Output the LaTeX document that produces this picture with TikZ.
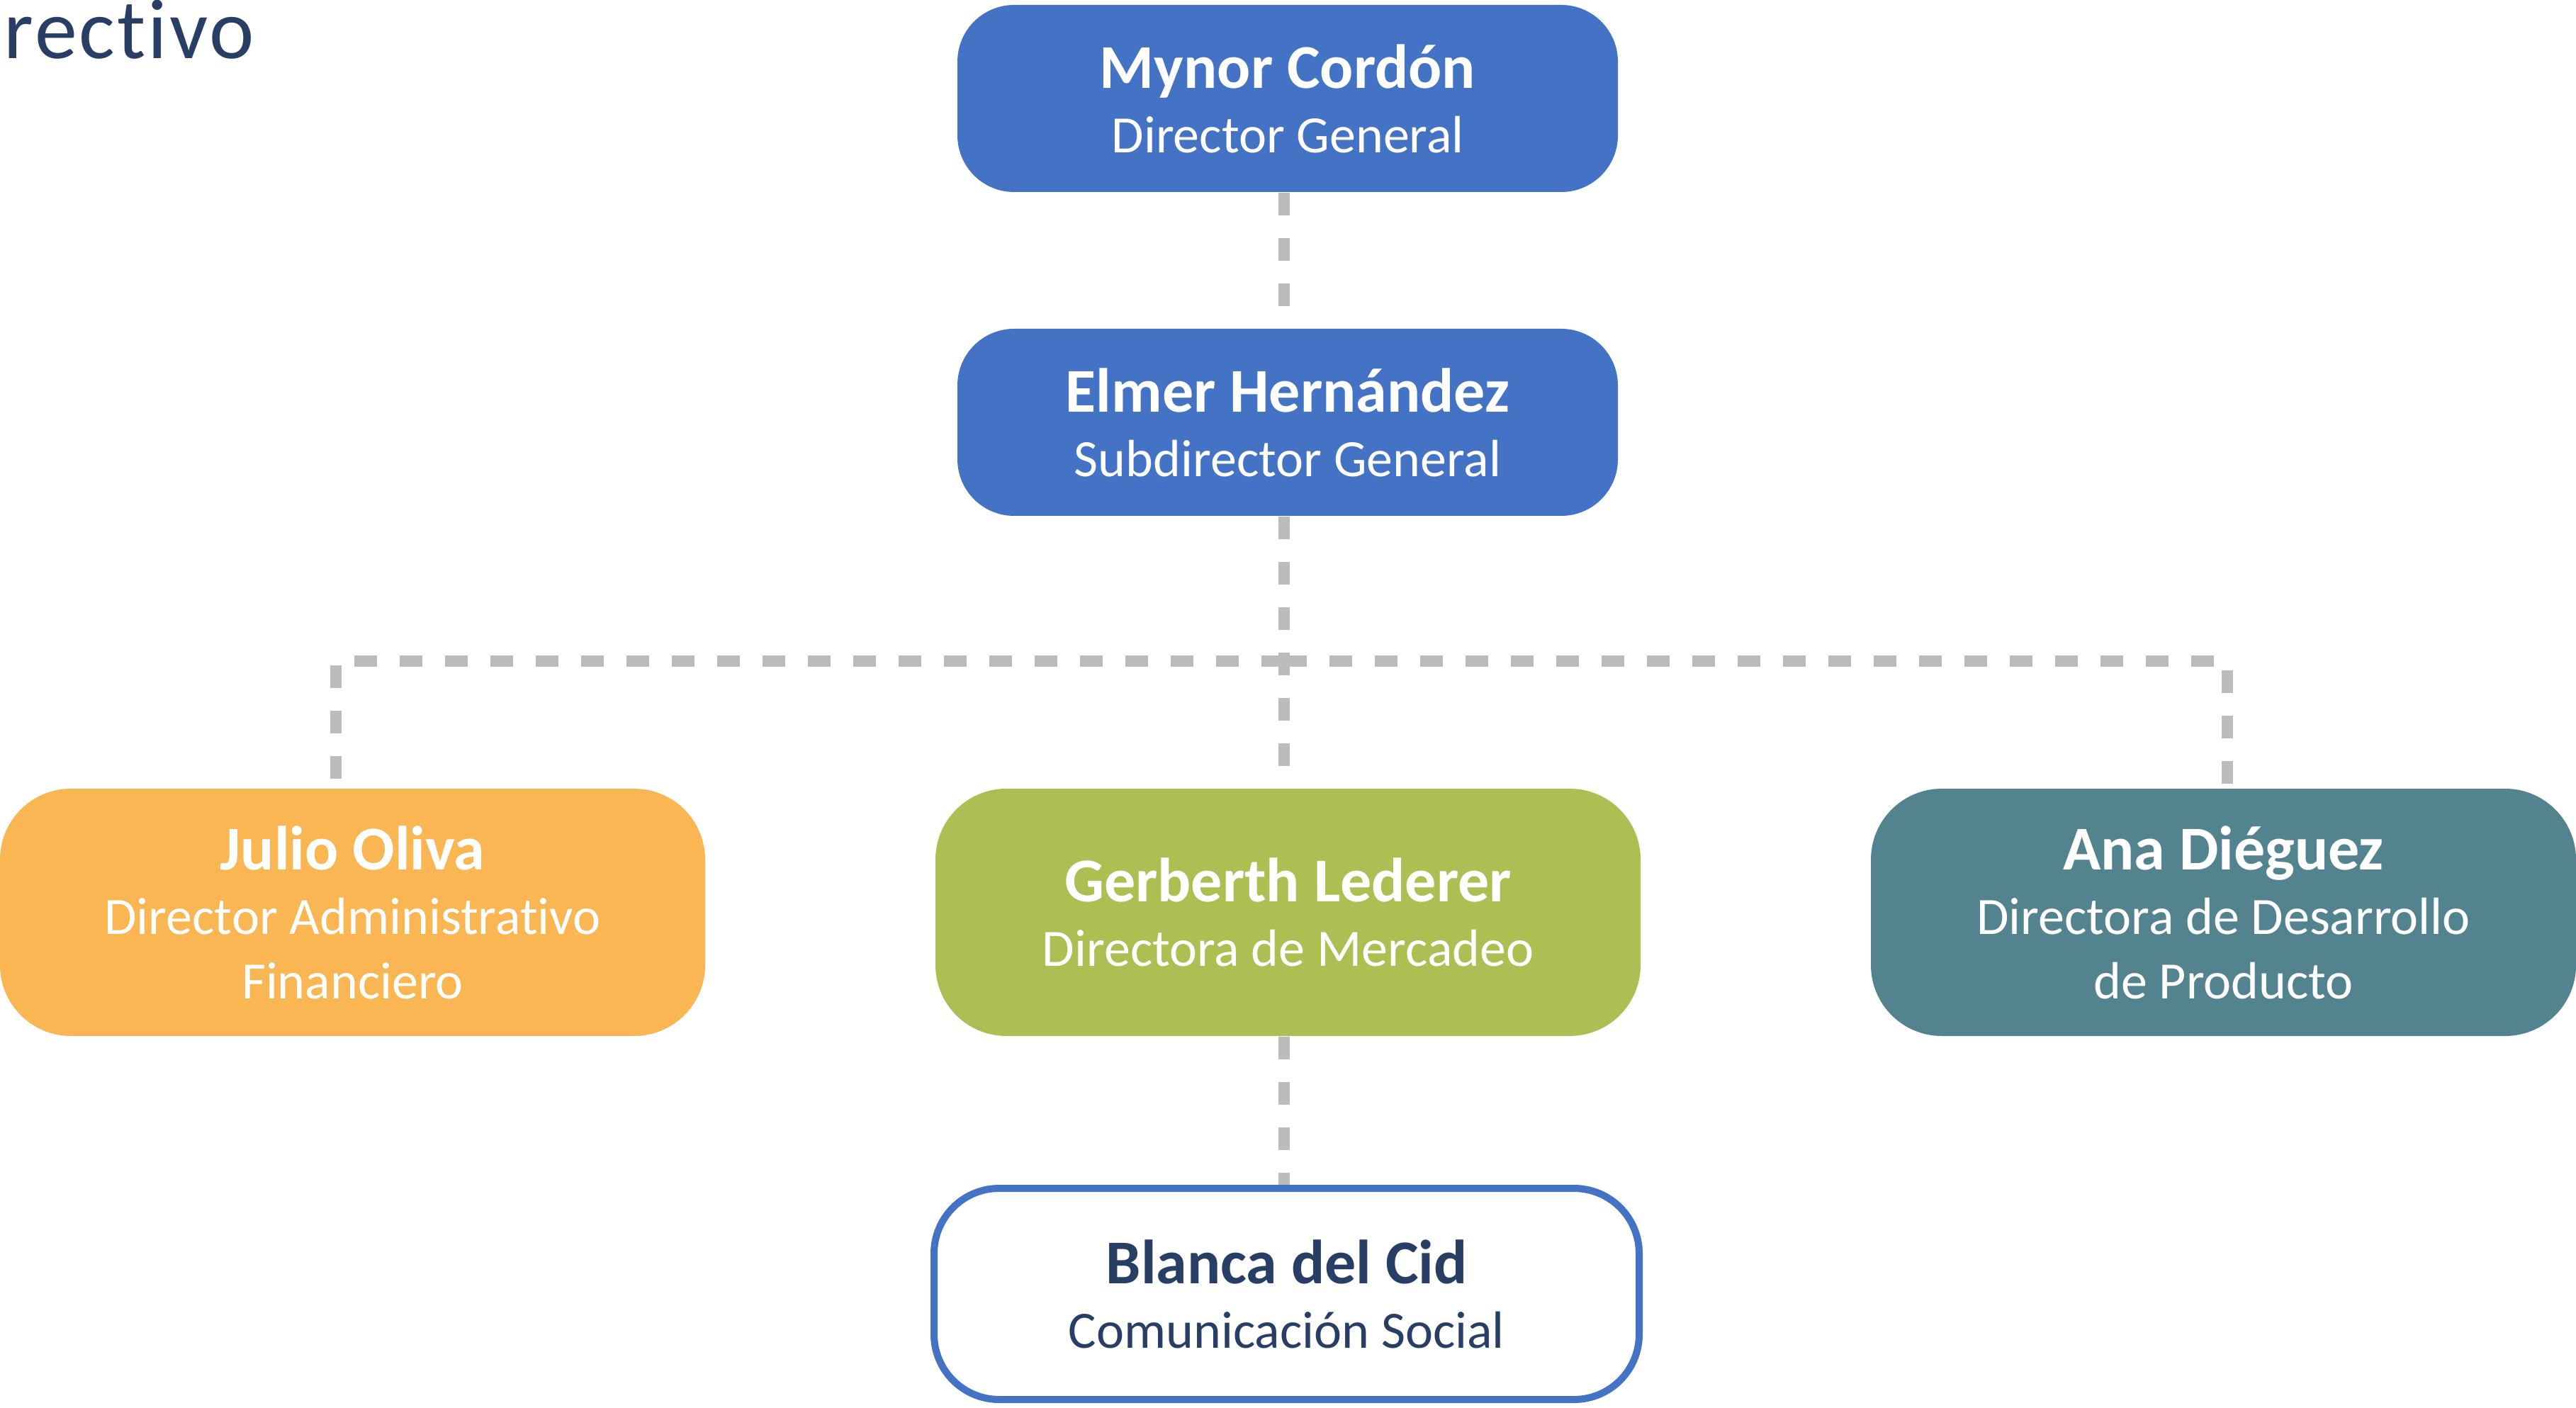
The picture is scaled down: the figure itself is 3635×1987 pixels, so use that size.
\documentclass[tikz,border=0pt]{standalone}
\usepackage{fontspec}
\setmainfont[Ligatures=NoCommon]{Carlito}
\definecolor{chiefblue}{HTML}{4472C4}
\definecolor{adminorange}{HTML}{F9B653}
\definecolor{mktgreen}{HTML}{ADBF52}
\definecolor{prodteal}{HTML}{53838F}
\definecolor{inkblue}{HTML}{283E64}
\definecolor{linegray}{HTML}{BCBCBC}
\newcommand{\who}[1]{{\fontsize{22}{22.75}\selectfont\bfseries #1}}

\begin{document}
\begin{tikzpicture}[x=0.25pt,y=-0.25pt,
    person/.style={align=center, text=white, inner sep=0pt,
        font=\fontsize{18.5}{22.75}\selectfont},
    chief/.style={person, fill=chiefblue, rounded corners=20pt,
        minimum width=233pt, minimum height=66pt},
    head/.style={person, rounded corners=25pt,
        minimum width=248.75pt, minimum height=87.25pt},
    link/.style={linegray, line width=4pt, dash pattern=on 8pt off 8pt}]
    \useasboundingbox (0,0) rectangle (3635,1987);

    % title, cut at the left edge
    \node[anchor=base west, inner sep=0pt, text=inkblue,
        font=\fontsize{30}{36}\selectfont\addfontfeatures{LetterSpace=2.5}] (title) at (5,83) {rectivo};

    \node[chief] (mynor) at (1817,139) {\who{Mynor Cordón}\\Director General};
    \node[chief] (elmer) at (1817,596) {\who{Elmer Hernández}\\Subdirector General};

    \node[head, fill=adminorange] (julio) at (497.5,1287.5) {\who{Julio Oliva}\\Director Administrativo\\Financiero};
    \node[head, fill=mktgreen] (gerberth) at (1817.5,1287.5) {\who{Gerberth Lederer}\\Directora de Mercadeo};
    \node[head, fill=prodteal] (ana) at (3137.5,1287.5) {\who{Ana Diéguez}\\Directora de Desarrollo\\de Producto};

    \node[person, draw=chiefblue, line width=2.5pt, fill=white, text=inkblue, rounded corners=23pt,
        minimum width=248.75pt, minimum height=74.5pt] (blanca) at (1815.5,1826) {\who{Blanca del Cid}\\Comunicación Social};

    % dashed links
    \coordinate (fork) at (1812,933);
    \draw[link] (mynor.south -| fork) -- (elmer.north -| fork);
    \draw[link] (elmer.south -| fork) -- (gerberth.north -| fork);
    \draw[link] (fork) -| ([xshift=-6pt]julio.north);
    \draw[link] (fork) -| ([xshift=1.4pt]ana.north);
    \draw[link] (gerberth.south -| fork) -- (blanca.north -| fork);
\end{tikzpicture}
\end{document}
